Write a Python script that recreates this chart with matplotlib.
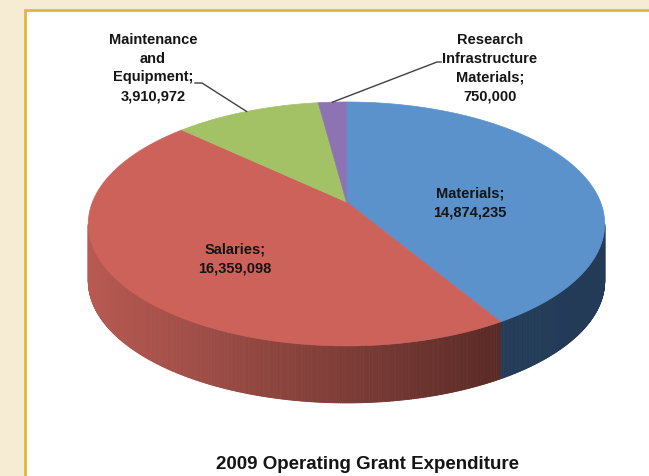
import numpy as np
import matplotlib
matplotlib.use("Agg")
import matplotlib.pyplot as plt
from matplotlib.patches import Polygon, Rectangle
from matplotlib.collections import PolyCollection

# Data
categories = ["Materials", "Salaries", "Maintenance\nand\nEquipment", "Research\nInfrastructure\nMaterials"]
values = [14874235, 16359098, 3910972, 750000]
title = "2009 Operating Grant Expenditure"

top_colors = ["#5b92cb", "#cd625a", "#a3c165", "#8e73b4"]
side_left = ["#26405e", "#b85a52", "#7d9a4a", "#6a5590"]
side_right = ["#233b57", "#5a2a26", "#5d7436", "#4e3f6b"]

# pie geometry in pixel coordinates (perspective tilted disc)
CX, CY = 346.5, 203
R, S, K = 254, 118, 0.18
DEPTH = 57


def project(t_deg, depth=0.0):
    t = np.radians(t_deg)
    u, v = np.cos(t), np.sin(t)
    w = 1 + K * v
    return CX + R * u / w, CY - S * v / w + depth


def mix(c1, c2, f):
    a = np.array(matplotlib.colors.to_rgb(c1))
    b = np.array(matplotlib.colors.to_rgb(c2))
    return tuple(a + (b - a) * f)


fig = plt.figure(figsize=(6.49, 4.77), dpi=100)
fig.patch.set_facecolor("#f6ebd3")
ax = fig.add_axes([0, 0, 1, 1])
ax.set_xlim(0, 649)
ax.set_ylim(477, 0)
ax.axis("off")

# white panel with gold border
ax.add_patch(Rectangle((25, 10.5), 640, 480, facecolor="white", edgecolor="#e2b83a", lw=2, zorder=0))

total = float(sum(values))
sweeps = [v / total * 360 for v in values]
starts = 90 - np.concatenate([[0], np.cumsum(sweeps)[:-1]])
ends = starts - np.array(sweeps)

# visible front wall runs between the silhouette tangent points
vis_lo = -180 + np.degrees(np.arcsin(K))
vis_hi = -np.degrees(np.arcsin(K))
x_left, _ = project(vis_lo)
x_right, _ = project(vis_hi)

for i in range(len(values)):
    a0 = max(ends[i], vis_lo)
    a1 = min(starts[i], vis_hi)
    if a1 <= a0:
        continue
    ts = np.linspace(a0, a1, int((a1 - a0) * 3) + 2)
    quads, cols = [], []
    x_end, _ = project(ts[-1] if i == 1 else ts[0])
    for t0, t1 in zip(ts[:-1], ts[1:]):
        x0, y0 = project(t0)
        x1, y1 = project(t1)
        quads.append([(x0, y0), (x1, y1), (x1, y1 + DEPTH), (x0, y0 + DEPTH)])
        f = ((x0 + x1) / 2 - x_left) / (x_right - x_left)
        if i == 1:
            f = ((x0 + x1) / 2 - x_left) / (x_end - x_left)
        cols.append(mix(side_left[i], side_right[i], np.clip(f, 0, 1)))
    ax.add_collection(PolyCollection(quads, facecolors=cols, edgecolors=cols, linewidths=0.6, zorder=2))

for i in range(len(values)):
    ts = np.linspace(ends[i], starts[i], max(int(sweeps[i] * 2), 4))
    xs, ys = project(ts)
    pts = [(CX, CY)] + list(zip(xs, ys))
    ax.add_patch(Polygon(pts, closed=True, facecolor=top_colors[i], edgecolor=top_colors[i], lw=0.5, zorder=3))

fmt = lambda v: f"{v:,}"
font = dict(family=["Liberation Sans", "DejaVu Sans"], fontweight="bold", fontsize=10.5, color="#151515")

# inside labels
ax.text(470, 203, f"{categories[0]};\n{fmt(values[0])}", ha="center", va="center", linespacing=1.45, zorder=5, **font)
ax.text(235, 259, f"{categories[1]};\n{fmt(values[1])}", ha="center", va="center", linespacing=1.45, zorder=5, **font)

# outside labels with leader lines to slice rim
ax.text(153, 68, f"{categories[2]};\n{fmt(values[2])}", ha="center", va="center", linespacing=1.45, zorder=5, **font)
ax.text(490, 68, f"{categories[3]};\n{fmt(values[3])}", ha="center", va="center", linespacing=1.45, zorder=5, **font)

mx, my = project((starts[2] + ends[2]) / 2)
ax.plot([195, 202, mx], [84, 84, my], color="#404040", lw=1, zorder=4)
rx, ry = project((starts[3] + ends[3]) / 2)
ax.plot([441, 437, rx], [63, 63, ry], color="#404040", lw=1, zorder=4)

ax.text(368, 465, title, ha="center", va="center", fontsize=13.5,
        family=["Liberation Sans", "DejaVu Sans"], fontweight="bold", color="#151515", zorder=5)

fig.savefig("out.png", dpi=100, facecolor=fig.get_facecolor())
